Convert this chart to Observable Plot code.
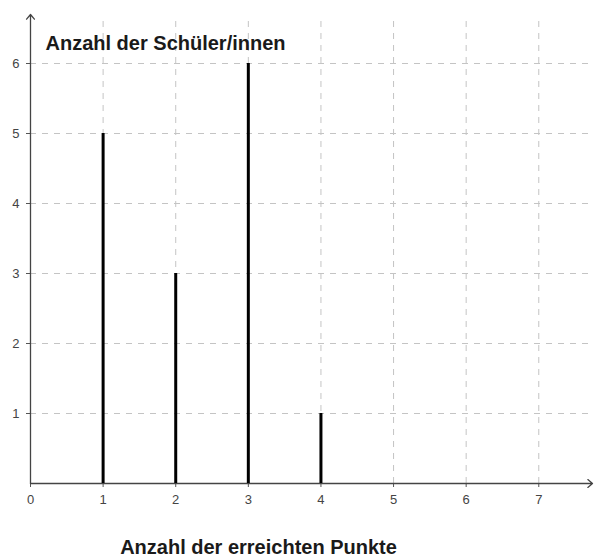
<!DOCTYPE html>
<html><head><meta charset="utf-8">
<script src="https://cdn.jsdelivr.net/npm/d3@7"></script>
<script src="https://cdn.jsdelivr.net/npm/@observablehq/plot@0.6"></script>
<style>body{margin:0;background:#fff;} svg{font-family:"Liberation Sans",Arial,sans-serif;}</style>
</head><body><div id="chart"></div>
<script>
const punkte = [1, 2, 3, 4];
const anzahl = [5, 3, 6, 1];
const xTicks = [0, 1, 2, 3, 4, 5, 6, 7];
const yTicks = [1, 2, 3, 4, 5, 6];
const yLabel = "Anzahl der Schüler/innen";
const xLabel = "Anzahl der erreichten Punkte";

const data = punkte.map((p, i) => ({p, n: anzahl[i]}));
const xMax = 7.74, yMax = 6.7;

const chart = Plot.plot({
  width: 596, height: 560,
  marginLeft: 30, marginRight: 4, marginTop: 14, marginBottom: 77,
  x: {domain: [0, xMax], axis: null},
  y: {domain: [0, yMax], axis: null},
  style: {fontFamily: "Liberation Sans, Arial, sans-serif", background: "#fff"},
  marks: [
    Plot.ruleX(xTicks.slice(1), {y1: 0, y2: yMax - 0.05, stroke: "#c4c4c4", strokeDasharray: "6,6", strokeWidth: 1}),
    Plot.ruleY(yTicks, {x1: 0, x2: xMax - 0.05, stroke: "#c4c4c4", strokeDasharray: "6,6", strokeWidth: 1}),
    Plot.axisX(xTicks, {label: null, tickSize: 4, tickPadding: 7, fontSize: 13, color: "#444", stroke: "#555", tickFormat: d => String(d)}),
    Plot.axisY(yTicks, {label: null, anchor: "left", tickSize: 4, tickPadding: 7, fontSize: 13, color: "#444", stroke: "#555", tickFormat: d => String(d)}),
    Plot.arrow([{}], {x1: 0, x2: xMax, y1: 0, y2: 0, stroke: "#444", strokeWidth: 1.3, headLength: 7, headAngle: 80}),
    Plot.arrow([{}], {x1: 0, x2: 0, y1: 0, y2: yMax, stroke: "#444", strokeWidth: 1.3, headLength: 7, headAngle: 80}),
    Plot.ruleX(data, {x: "p", y1: 0, y2: "n", stroke: "#000", strokeWidth: 3}),
    Plot.text([yLabel], {frameAnchor: "top-left", lineAnchor: "bottom", textAnchor: "start", dx: 15, dy: 35, fontWeight: "bold", fontSize: 20, fill: "#1a1a1a"}),
    Plot.text([xLabel], {frameAnchor: "bottom", lineAnchor: "bottom", dx: -53, dy: 70, fontWeight: "bold", fontSize: 20, fill: "#1a1a1a"})
  ]
});
document.getElementById("chart").appendChild(chart);
</script></body></html>
